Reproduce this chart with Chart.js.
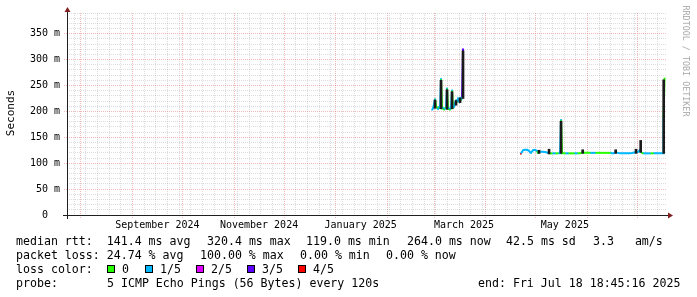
<!DOCTYPE html>
<html>
<head>
<meta charset="utf-8">
<script src="https://cdn.jsdelivr.net/npm/chart.js@4.4.1/dist/chart.umd.min.js"></script>
<style>
  body { margin: 0; background: #fff; }
  #wrap { position: relative; width: 697px; height: 297px; font-family: 'DejaVu Sans Mono', monospace; color: #000; overflow: hidden; }
  #wrap canvas { position: absolute; left: 0; top: 0; }
  .t { position: absolute; white-space: pre; font-size: 11.6px; line-height: 14px; }
  .box { position: absolute; width: 8px; height: 8px; border: 1px solid #000; box-sizing: border-box; }
  #ytitle { position: absolute; left: -19px; top: 107px; width: 60px; text-align: center; font-size: 11px; line-height: 12px; transform: rotate(-90deg); white-space: pre; }
  #mark { position: absolute; left: 626px; top: 56px; width: 120px; text-align: center; font-size: 8.4px; line-height: 10px; color: #aaa; transform: rotate(90deg); white-space: pre; }
</style>
</head>
<body>
<div id="wrap">
  <canvas id="c" width="697" height="297"></canvas>
  <div id="ytitle">Seconds</div>
  <div id="mark">RRDTOOL / TOBI OETIKER</div>

  <div class="t" style="left:16px;top:234px">median rtt:  141.4 ms avg</div>
  <div class="t" style="left:207px;top:234px">320.4 ms max</div>
  <div class="t" style="left:306px;top:234px">119.0 ms min</div>
  <div class="t" style="left:407px;top:234px">264.0 ms now</div>
  <div class="t" style="left:506px;top:234px">42.5 ms sd</div>
  <div class="t" style="left:593px;top:234px">3.3   am/s</div>

  <div class="t" style="left:16px;top:248px">packet loss: 24.74 % avg</div>
  <div class="t" style="left:200px;top:248px">100.00 % max</div>
  <div class="t" style="left:300px;top:248px">0.00 % min</div>
  <div class="t" style="left:386px;top:248px">0.00 % now</div>

  <div class="t" style="left:16px;top:262px">loss color:</div>
  <div id="lossrow"></div>

  <div class="t" style="left:16px;top:276px">probe:</div>
  <div class="t" style="left:107px;top:276px">5 ICMP Echo Pings (56 Bytes) every 120s</div>
  <div class="t" style="left:478px;top:276px">end: Fri Jul 18 18:45:16 2025</div>
</div>
<script>
// time axis in days relative to 2025-01-01, 360 day window ending Jul 18 18:45
const xMin = -161.22;
const xMax = 198.78;
const yMax = 390;

const lossColors = ['#26ff00', '#00b8ff', '#dd00ff', '#5e00ff', '#ff0000'];
const lossLabels = ['0', '1/5', '2/5', '3/5', '4/5'];
const lossBoxX = [107, 145, 196, 247, 298];

// median rtt (ms) and loss level per point, null = no data
const medianDays = [
  57.8, 58.4, 59.0, 59.6, 60.2, 60.8, 61.4, 62.0, 62.6, 63.2, 63.8, 64.4, 65.0, 65.6, 66.2, 66.8,
  67.4, 68.0, 68.6, 69.2, 69.8, 70.4, 71.0, 71.6, 72.2, 72.8, 73.4, 74.0, 74.6, 75.2, 75.8, 76.4,
  95,
  111.0, 111.6, 112.4, 113.6, 114.8, 116.0, 116.6, 117.2, 118.4, 119.6, 120.8, 121.4, 122.0, 122.6,
  124.4, 126.2, 127.4, 128.0, 129.8, 131.6, 133.4, 134.6, 135.2, 135.8, 137.6, 139.4, 141.2, 143.0,
  144.8, 146.6, 148.2, 149.6, 152.6, 155.6, 158.6, 161.6, 164.6, 166.4, 168.0, 170.6, 173.6, 176.6,
  178.4, 180.2, 181.4, 182.4, 183.0, 184.2, 186.2, 188.6, 190.4, 192.2, 194.6, 196.4, 196.7, 197.3
];
const medianMs = [
  203, 206, 214, 224, 211, 207, 205, 209, 206, 263, 205, 207, 203, 206, 208, 245,
  204, 206, 203, 209, 241, 206, 209, 216, 222, 218, 224, 220, 227, 222, 227, 320.4,
  null,
  118, 121, 125, 126, 126, 124, 121, 120, 125, 126, 124, 119, 121, 122,
  122, 121, 120, 119, 119, 119, 119, 119, 184, 119, 119, 119, 119, 119,
  119, 119, 121, 120, 120, 120, 120, 120, 120, 119, 121, 119, 119, 119,
  120, 121, 122, 125, 122, 119, 119, 119, 119, 119, 119, 119, 187, 264
];
const medianLoss = [
  1, 1, 1, 1, 0, 0, 1, 1, 0, 1, 0, 1, 0, 1, 0, 1,
  0, 1, 0, 1, 1, 0, 1, 1, 1, 0, 1, 1, 1, 0, 1, 3,
  0,
  4, 1, 1, 1, 1, 1, 1, 1, 1, 1, 1, 0, 1, 1,
  1, 1, 1, 1, 0, 1, 0, 1, 1, 0, 0, 1, 0, 0,
  1, 0, 0, 0, 0, 1, 0, 0, 0, 1, 1, 1, 1, 1,
  1, 1, 1, 1, 1, 0, 1, 1, 0, 1, 1, 1, 1, 0
];

// smoke (ping spread) columns
const smokeDays = [59.6, 63.2, 66.8, 69.8, 72.2, 74.6, 76.4, 122.0, 128.0, 135.2, 148.2, 168.0, 180.2, 183.0, 196.8];
const smokeLow  = [206, 205, 204, 205, 212, 217, 225, 119, 118, 119, 119, 119, 119, 121, 119];
const smokeHigh = [222, 260, 242, 238, 221, 226, 317, 125, 127, 181, 126, 126, 127, 144, 261];

// month starts (major grid) and axis labels
const monthStarts = [-153, -122, -92, -61, -31, 0, 31, 59, 90, 120, 151, 181];
const labelDays = [-107, -46, 15, 77, 137.5];
const labelText = ['September 2024', 'November 2024', 'January 2025', 'March 2025', 'May 2025'];

const gridDays = [];
for (let d = -157; d <= xMax; d += 7) gridDays.push(d); // sundays
monthStarts.forEach(d => { if (!gridDays.includes(d)) gridDays.push(d); });
gridDays.sort((a, b) => a - b);

const yTicks = [];
for (let v = 0; v <= yMax; v += 10) yTicks.push(v);

const minorColor = 'rgba(143,143,143,0.3)';
const majorColor = 'rgba(222,79,79,0.4)';
const monoFont = { family: 'DejaVu Sans Mono', size: 10 };

// loss color legend
const lossRow = document.getElementById('lossrow');
lossLabels.forEach((lab, i) => {
  const b = document.createElement('div');
  b.className = 'box';
  b.style.left = lossBoxX[i] + 'px';
  b.style.top = '265px';
  b.style.background = lossColors[i];
  lossRow.appendChild(b);
  const t = document.createElement('div');
  t.className = 't';
  t.style.left = (lossBoxX[i] + 15) + 'px';
  t.style.top = '262px';
  t.textContent = lab;
  lossRow.appendChild(t);
});

const axisPlugin = {
  id: 'rrdAxes',
  afterDraw(chart) {
    const { ctx, chartArea: a } = chart;
    ctx.save();
    ctx.strokeStyle = '#1f1f1f';
    ctx.lineWidth = 1;
    ctx.beginPath();
    ctx.moveTo(a.left - 4, a.bottom + 0.5);
    ctx.lineTo(a.right + 2, a.bottom + 0.5);
    ctx.moveTo(a.left + 0.5, a.bottom + 4);
    ctx.lineTo(a.left + 0.5, a.top - 2);
    ctx.stroke();
    ctx.fillStyle = '#801f1f';
    ctx.beginPath();
    ctx.moveTo(a.right + 1, a.bottom - 2.5);
    ctx.lineTo(a.right + 6, a.bottom + 0.5);
    ctx.lineTo(a.right + 1, a.bottom + 3.5);
    ctx.fill();
    ctx.beginPath();
    ctx.moveTo(a.left - 2.5, a.top - 1);
    ctx.lineTo(a.left + 0.5, a.top - 6);
    ctx.lineTo(a.left + 3.5, a.top - 1);
    ctx.fill();
    ctx.restore();
  }
};

new Chart(document.getElementById('c'), {
  type: 'line',
  data: {
    datasets: [
      {
        type: 'bar',
        data: smokeDays.map((d, i) => ({ x: d, y: [smokeLow[i], smokeHigh[i]] })),
        backgroundColor: '#1a1a1a',
        borderWidth: 0,
        barThickness: 2,
        grouped: false,
        order: 0,
        xAxisID: 'x',
        yAxisID: 'y'
      },
      {
        type: 'line',
        data: medianDays.map((d, i) => ({ x: d, y: medianMs[i] })),
        borderWidth: 2,
        borderColor: lossColors[1],
        segment: { borderColor: ctx => lossColors[medianLoss[ctx.p1DataIndex]] },
        pointRadius: 1,
        pointStyle: 'rect',
        pointBorderWidth: 0,
        pointBackgroundColor: ctx => lossColors[medianLoss[ctx.dataIndex]],
        spanGaps: false,
        tension: 0,
        order: 1,
        xAxisID: 'x',
        yAxisID: 'y'
      }
    ]
  },
  options: {
    responsive: false,
    animation: false,
    devicePixelRatio: 1,
    layout: { padding: { left: 0, right: 30, top: 13, bottom: 0 } },
    plugins: { legend: { display: false }, tooltip: { enabled: false } },
    scales: {
      x: {
        type: 'linear',
        position: 'bottom',
        min: xMin,
        max: xMax,
        offset: false,
        afterBuildTicks: s => { s.ticks = gridDays.map(v => ({ value: v })); },
        afterFit: s => { s.height = 0; },
        ticks: { display: false },
        grid: {
          offset: false,
          lineWidth: 1,
          color: ctx => monthStarts.includes(ctx.tick.value) ? majorColor : minorColor,
          drawTicks: true,
          tickLength: 3,
          tickColor: ctx => monthStarts.includes(ctx.tick.value) ? majorColor : 'rgba(0,0,0,0)',
          tickBorderDash: [1, 1]
        },
        border: { display: false, dash: [1, 1] }
      },
      xl: {
        type: 'linear',
        position: 'bottom',
        min: xMin,
        max: xMax,
        offset: false,
        afterBuildTicks: s => { s.ticks = labelDays.map(v => ({ value: v })); },
        afterFit: s => { s.height = 82; },
        grid: { display: false, drawTicks: false, offset: false },
        border: { display: false },
        ticks: {
          autoSkip: false,
          maxRotation: 0,
          minRotation: 0,
          padding: 4,
          color: '#000',
          font: monoFont,
          callback: (v, i) => labelText[i]
        }
      },
      y: {
        type: 'linear',
        position: 'left',
        min: 0,
        max: yMax,
        afterBuildTicks: s => { s.ticks = yTicks.map(v => ({ value: v })); },
        afterFit: s => { s.width = 67; },
        grid: {
          lineWidth: 1,
          color: ctx => ctx.tick.value % 50 === 0 ? majorColor : minorColor,
          drawTicks: true,
          tickLength: 3,
          tickColor: ctx => ctx.tick.value % 50 === 0 ? majorColor : 'rgba(0,0,0,0)',
          tickBorderDash: [1, 1]
        },
        border: { display: false, dash: [1, 1] },
        ticks: {
          autoSkip: false,
          padding: 4,
          color: '#000',
          font: monoFont,
          callback: v => v % 50 === 0 ? (v === 0 ? '0  ' : v + ' m') : ''
        }
      }
    }
  },
  plugins: [axisPlugin]
});
</script>
</body>
</html>
